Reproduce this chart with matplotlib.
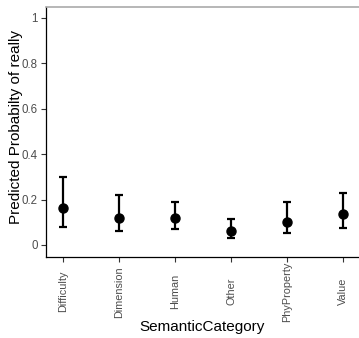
import numpy as np
from matplotlib import pyplot as plt

categories = ['Difficulty', 'Dimension', 'Human', 'Other', 'PhyProperty', 'Value']
prob = [0.164, 0.120, 0.118, 0.060, 0.103, 0.135]
lower = [0.081, 0.063, 0.069, 0.031, 0.054, 0.076]
upper = [0.301, 0.219, 0.191, 0.113, 0.188, 0.228]

plt.rcParams['font.family'] = ['Liberation Sans', 'DejaVu Sans']

fig = plt.figure(figsize=(3.59, 3.38), dpi=100)
ax = fig.add_axes([0.128, 0.2396, 0.872, 0.7394])

x = np.arange(1, len(categories) + 1)
p = np.array(prob)
yerr = [p - np.array(lower), np.array(upper) - p]
ax.errorbar(x, p, yerr=yerr, fmt='o', color='black', markersize=6.5,
            elinewidth=1.6, capsize=2.6, capthick=1.6)

ax.set_xlim(0.69, 6.28)
ax.set_ylim(-0.053, 1.048)
ax.set_xticks(x)
ax.set_xticklabels(categories, rotation=90, fontsize=7.8, color='#4d4d4d',
                   va='center', ha='center')
ax.set_yticks([0, 0.2, 0.4, 0.6, 0.8, 1.0])
ax.set_yticklabels(['0', '0.2', '0.4', '0.6', '0.8', '1'], fontsize=8.3, color='#4d4d4d')
ax.tick_params(length=3.5, width=0.8, color='#333333')
ax.tick_params(axis='x', pad=21.5)
ax.tick_params(axis='y', pad=2.5)

ax.set_xlabel('SemanticCategory', fontsize=11, va='center')
ax.set_ylabel('Predicted Probabilty of really', fontsize=11, va='center')
ax.xaxis.set_label_coords(0.498, -0.28)
ax.yaxis.set_label_coords(-0.096, 0.52)

for side in ['left', 'bottom']:
    ax.spines[side].set_linewidth(0.9)
ax.spines['right'].set_visible(False)
ax.spines['top'].set_color('#aaaaaa')
ax.spines['top'].set_linewidth(1.2)

fig.savefig('out.png', dpi=100)
plt.close()
